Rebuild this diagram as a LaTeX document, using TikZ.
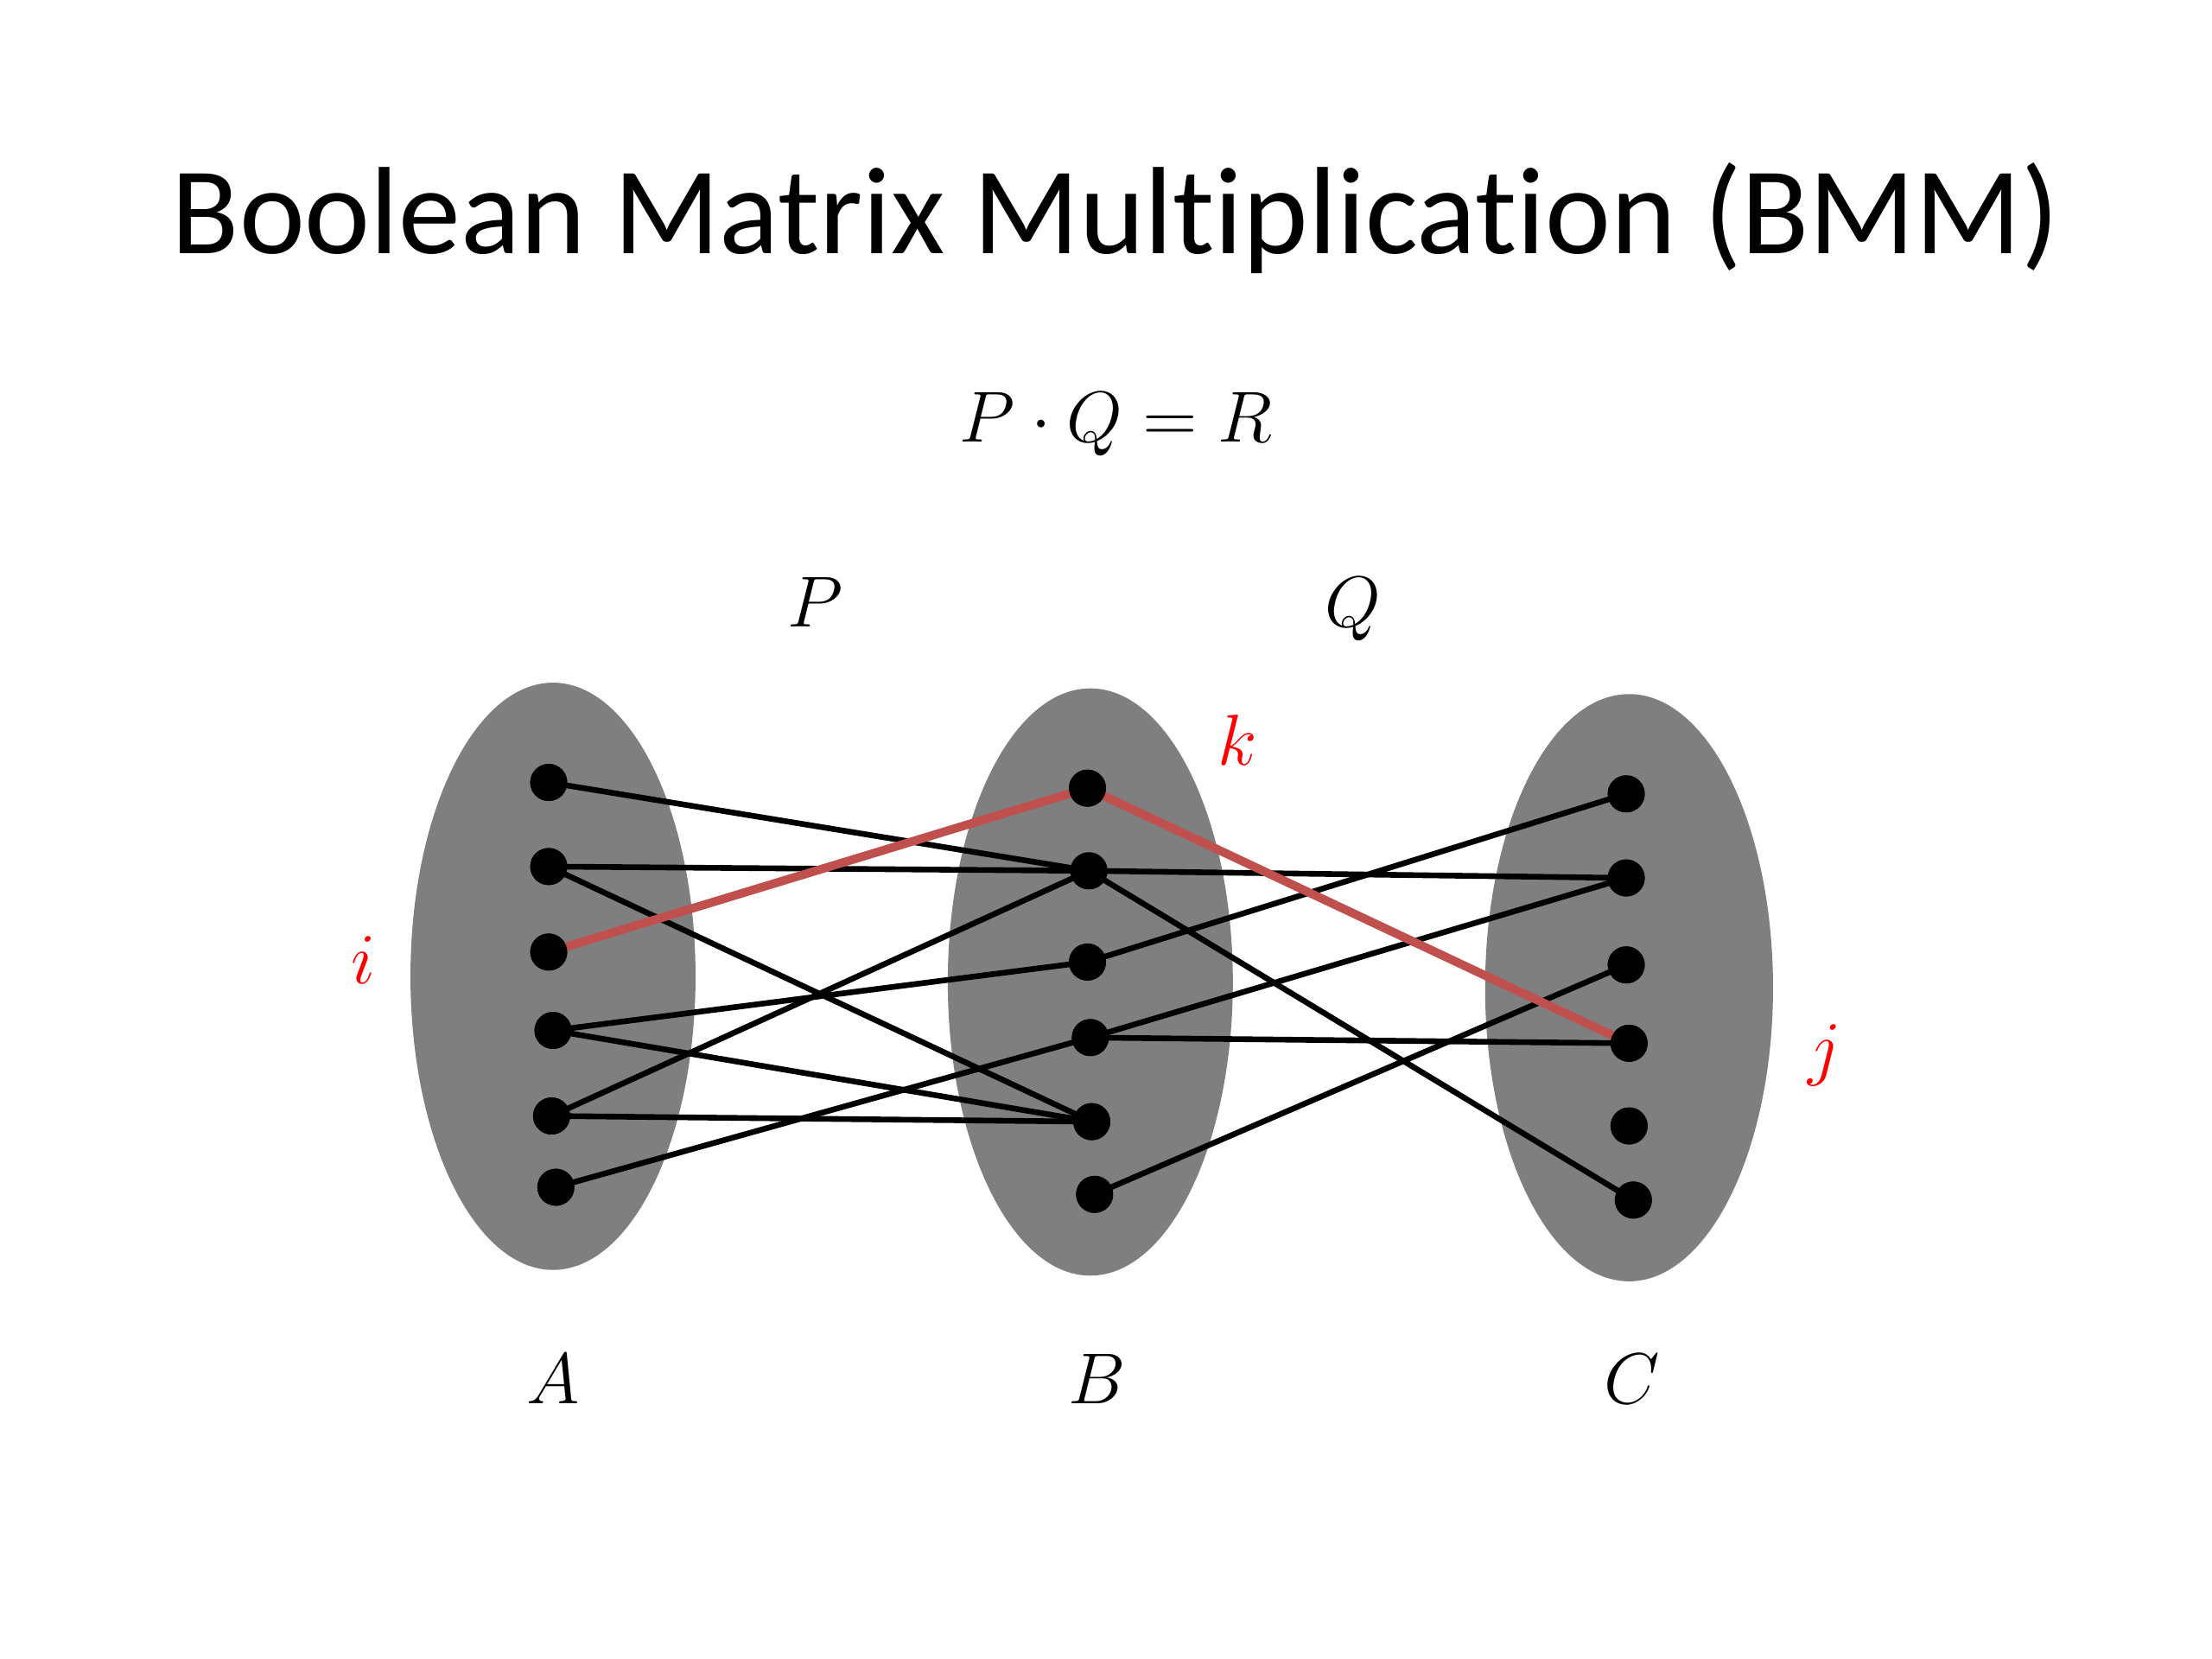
\documentclass[tikz,border=0pt]{standalone}
\usepackage{fontspec}
\setmainfont{Carlito}[Ligatures=NoCommon]
\usepackage{tikz}
\usetikzlibrary{calc}
\usepackage{amsmath}
\definecolor{blobgray}{HTML}{7F7F7F}
\definecolor{pathred}{HTML}{C0504D}
\tikzset{
  blob/.style={fill=blobgray},
  dot/.style={circle,fill=black,inner sep=0pt,minimum size=0.26cm},
  wire/.style={black,line width=0.4mm},
  redwire/.style={pathred,line width=0.6mm},
  lbl/.style={anchor=base,font=\fontsize{15}{18}\selectfont},
  redlbl/.style={lbl,text=red}
}

\begin{document}
\begin{tikzpicture}
\useasboundingbox (0cm,0cm) rectangle (15.52cm,-11.64cm);
\fill[white] (0cm,0cm) rectangle (15.52cm,-11.64cm);
% title and formula
\node[anchor=base,font=\fontsize{24.8}{28}\selectfont] (title) at (7.83cm,-1.78cm) {Boolean Matrix Multiplication (BMM)};
\node[lbl] (eq) at (7.83cm,-3.10cm) {$P\cdot Q=R$};
\node[lbl] (lp) at (5.72cm,-4.40cm) {$P$};
\node[lbl] (lq) at (9.49cm,-4.40cm) {$Q$};
% the three sets
\fill[blob] (3.88cm,-6.85cm) ellipse (1.00cm and 2.06cm);
\fill[blob] (7.65cm,-6.89cm) ellipse (1.00cm and 2.06cm);
\fill[blob] (11.43cm,-6.93cm) ellipse (1.01cm and 2.06cm);
\node[lbl] (la) at (3.88cm,-9.85cm) {$A$};
\node[lbl] (lb) at (7.70cm,-9.85cm) {$B$};
\node[lbl] (lc) at (11.45cm,-9.85cm) {$C$};
% elements
\node[dot] (a1) at (3.85cm,-5.49cm) {};
\node[dot] (a2) at (3.85cm,-6.08cm) {};
\node[dot] (a3) at (3.85cm,-6.68cm) {};
\node[dot] (a4) at (3.88cm,-7.23cm) {};
\node[dot] (a5) at (3.87cm,-7.83cm) {};
\node[dot] (a6) at (3.90cm,-8.33cm) {};
\node[dot] (b1) at (7.63cm,-5.53cm) {};
\node[dot] (b2) at (7.64cm,-6.11cm) {};
\node[dot] (b3) at (7.63cm,-6.75cm) {};
\node[dot] (b4) at (7.65cm,-7.28cm) {};
\node[dot] (b5) at (7.66cm,-7.87cm) {};
\node[dot] (b6) at (7.68cm,-8.38cm) {};
\node[dot] (c1) at (11.41cm,-5.57cm) {};
\node[dot] (c2) at (11.41cm,-6.16cm) {};
\node[dot] (c3) at (11.41cm,-6.77cm) {};
\node[dot] (c4) at (11.43cm,-7.32cm) {};
\node[dot] (c5) at (11.43cm,-7.90cm) {};
\node[dot] (c6) at (11.46cm,-8.42cm) {};
% P edges
\draw[wire] (a1.center) -- (b2.center);
\draw[wire] (a2.center) -- (b2.center);
\draw[wire] (a2.center) -- (b5.center);
\draw[wire] (a4.center) -- (b3.center);
\draw[wire] (a4.center) -- (b5.center);
\draw[wire] (a5.center) -- (b2.center);
\draw[wire] (a5.center) -- (b5.center);
\draw[wire] (a6.center) -- (b4.center);
% Q edges
\draw[wire] (b2.center) -- (c2.center);
\draw[wire] (b2.center) -- (c6.center);
\draw[wire] (b3.center) -- (c1.center);
\draw[wire] (b4.center) -- (c2.center);
\draw[wire] (b4.center) -- (c4.center);
\draw[wire] (b6.center) -- (c3.center);
% the path i-k-j
\draw[redwire] (a3.center) -- (b1.center) -- (c4.center);
\foreach \n in {a1,a2,a3,a4,a5,a6,b1,b2,b3,b4,b5,b6,c1,c2,c3,c4,c5,c6}
  \fill (\n) circle (0.13cm);
\node[redlbl] (li) at (2.55cm,-6.90cm) {$i$};
\node[redlbl] (lk) at (8.68cm,-5.37cm) {$k$};
\node[redlbl] (lj) at (12.80cm,-7.52cm) {$j$};
\end{tikzpicture}
\end{document}
